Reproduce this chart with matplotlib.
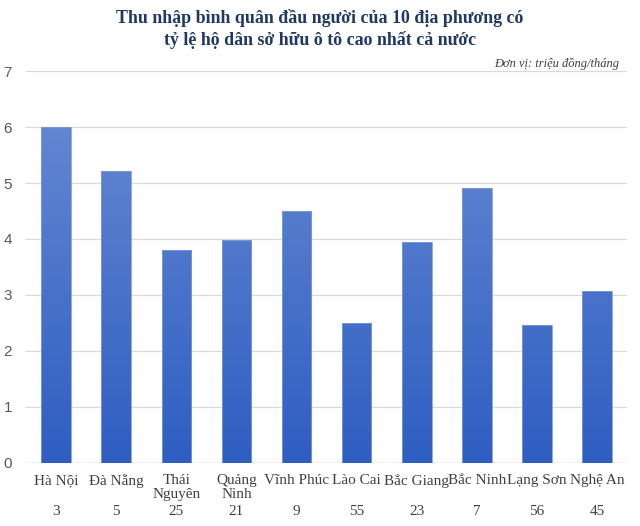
import numpy as np
import matplotlib
matplotlib.use("Agg")
import matplotlib.pyplot as plt
from matplotlib.colors import LinearSegmentedColormap
from matplotlib.transforms import blended_transform_factory

# ── data ──────────────────────────────────────────────────────────────
regions = ["Hà Nội", "Đà Nẵng", "Thái\nNguyên", "Quảng\nNinh", "Vĩnh Phúc",
           "Lào Cai", "Bắc Giang", "Bắc Ninh", "Lạng Sơn", "Nghệ An"]
income = [6.0, 5.22, 3.80, 3.98, 4.50, 2.50, 3.95, 4.91, 2.46, 3.07]
rank = [3, 5, 25, 21, 9, 55, 23, 7, 56, 45]

TITLE = "Thu nhập bình quân đầu người của 10 địa phương có\ntỷ lệ hộ dân sở hữu ô tô cao nhất cả nước"
UNIT = "Đơn vị: triệu đồng/tháng"

fig = plt.figure(figsize=(6.4, 5.26), dpi=100)
ax = fig.add_axes([0.0406, 0.1198, 0.9394, 0.7452])

x = np.arange(len(regions))
bars = ax.bar(x, income, width=0.49, color="none", edgecolor="#7d9ddb",
              linewidth=0.6, zorder=3)

# vertical gradient fill (lighter top, darker bottom)
cmap = LinearSegmentedColormap.from_list("g", ["#2f5ec2", "#6a8dd3"])
grad = np.linspace(0, 1, 256).reshape(-1, 1)
for b in bars:
    x0, w = b.get_x(), b.get_width()
    im = ax.imshow(grad, cmap=cmap, origin="lower", aspect="auto",
                   extent=[x0, x0 + w, 0, 7], zorder=2, vmin=0, vmax=1)
    im.set_clip_path(b)

ax.set_xlim(-0.5, len(regions) - 0.5)
ax.set_ylim(0, 7)
ax.set_yticks(range(0, 8))
ax.grid(axis="y", color="#d9d9d9", linewidth=0.9, zorder=0)
ax.set_axisbelow(True)
for s in ax.spines.values():
    s.set_visible(False)
ax.axhline(0, color="#d0d0d0", linewidth=1.0, zorder=1)

ax.tick_params(axis="y", length=0, pad=10, labelsize=11, labelcolor="#595959")
for lbl in ax.get_yticklabels():
    lbl.set_family("Liberation Sans")

ax.set_xticks(x)
ax.set_xticklabels(regions, family="Liberation Serif", fontsize=11,
                   color="#404040", va="top", linespacing=1.05)
ax.tick_params(axis="x", length=0, pad=8)

trans = blended_transform_factory(ax.transData, ax.transAxes)
for xi, r in zip(x, rank):
    ax.text(xi, -0.123, str(r), transform=trans, ha="center", va="center",
            family="Liberation Serif", fontsize=11, color="#404040")

fig.text(0.5, 0.945, TITLE, ha="center", va="center", family="Liberation Serif",
         fontweight="bold", fontsize=12.9, color="#1f3864", linespacing=1.25)
fig.text(0.968, 0.878, UNIT, ha="right", va="center", family="Liberation Serif",
         style="italic", fontsize=9, color="#404040")

fig.savefig("out.png", dpi=100)
